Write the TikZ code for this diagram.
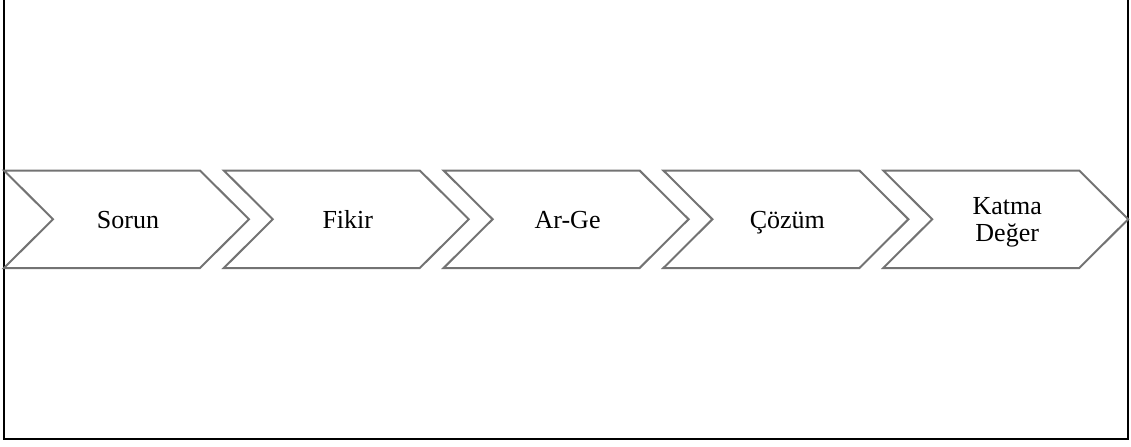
\documentclass[tikz,border=0pt]{standalone}
\usepackage{fontspec}
\setmainfont{Liberation Serif}
\tikzset{chevron/.style={draw=gray!90!black, line width=1pt, line join=miter},
  chevlabel/.style={font=\fontsize{13}{12.5}\selectfont, align=center}}
\begin{document}
\begin{tikzpicture}[x=0.5pt,y=0.5pt]
\useasboundingbox (0,0) rectangle (1131,446);
% frame, open at the top
\draw[line width=0.9pt] (4,470) -- (4,7) -- (1128,7) -- (1128,470);
% the five chevrons
\foreach \lbl [count=\i from 0] in {Sorun,Fikir,Ar-Ge,Çözüm,{Katma\\\strut Değer}}{
  \pgfmathsetmacro\xa{4+219.8*\i}
  \draw[chevron] (\xa,275.5) -- ++(196,0) -- ++(49,-48.75) -- ++(-49,-48.75)
    -- ++(-196,0) -- ++(49,48.75) -- cycle;
  \node[chevlabel] (stage\i) at (\xa+124,222.7) {\strut\lbl};
}
\end{tikzpicture}
\end{document}
